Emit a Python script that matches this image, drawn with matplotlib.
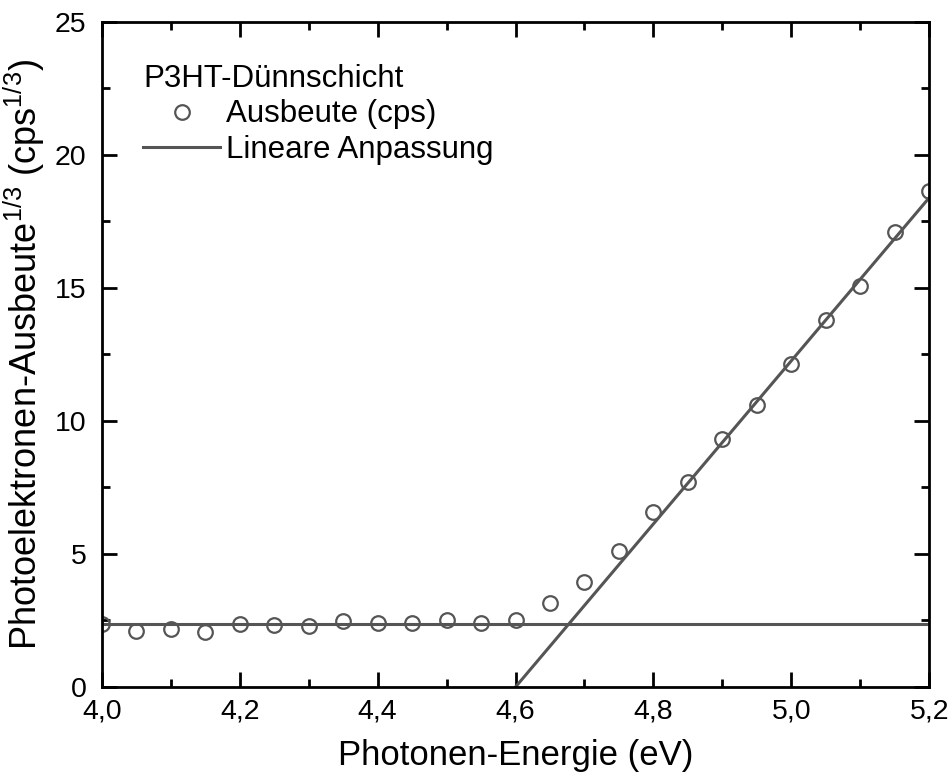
import numpy as np
import matplotlib
matplotlib.use("Agg")
import matplotlib.pyplot as plt
from matplotlib.ticker import MultipleLocator, FuncFormatter

# photon energy (eV) and cube root of yield (cps^1/3)
energy = [4.00, 4.05, 4.10, 4.15, 4.20, 4.25, 4.30, 4.35, 4.40, 4.45, 4.50, 4.55, 4.60,
          4.65, 4.70, 4.75, 4.80, 4.85, 4.90, 4.95, 5.00, 5.05, 5.10, 5.15, 5.20]
yield_cbrt = [2.37, 2.10, 2.18, 2.07, 2.37, 2.33, 2.29, 2.48, 2.40, 2.40, 2.52, 2.40, 2.52,
              3.16, 3.95, 5.11, 6.58, 7.70, 9.32, 10.60, 12.14, 13.80, 15.07, 17.10, 18.65]

# fit results
baseline = 2.35
fit_x0 = 4.60       # x-intercept of the linear fit
fit_slope = 30.65   # cps^1/3 per eV

plt.rcParams['font.family'] = ['Liberation Sans', 'DejaVu Sans']
plt.rcParams['mathtext.fontset'] = 'custom'
plt.rcParams['mathtext.rm'] = 'Liberation Sans'
plt.rcParams['mathtext.it'] = 'Liberation Sans'

fig = plt.figure(figsize=(9.52, 7.83), dpi=100)
ax = fig.add_axes([0.107, 0.1226, 0.869, 0.8494])

ax.plot(energy, yield_cbrt, 'o', mfc='none', mec='#555555', ms=10.5, mew=1.6,
        label='Ausbeute (cps)')
fx = np.array([fit_x0, 5.2])
ax.plot(fx, fit_slope * (fx - fit_x0), color='#555555', lw=2.2, label='Lineare Anpassung')
ax.axhline(baseline, color='#555555', lw=2.2)

ax.set_xlim(4.0, 5.2)
ax.set_ylim(0, 25)
ax.xaxis.set_major_locator(MultipleLocator(0.2))
ax.xaxis.set_minor_locator(MultipleLocator(0.1))
ax.yaxis.set_major_locator(MultipleLocator(5))
ax.yaxis.set_minor_locator(MultipleLocator(2.5))
ax.xaxis.set_major_formatter(FuncFormatter(lambda v, p: ('%.1f' % v).replace('.', ',')))
ax.yaxis.set_major_formatter(FuncFormatter(lambda v, p: '%d' % v))
ax.tick_params(which='both', direction='in', top=True, right=True, width=2, labelsize=20.5)
ax.tick_params(which='major', length=11)
ax.tick_params(which='minor', length=6)
ax.tick_params(axis='x', which='major', pad=8)
ax.tick_params(axis='y', which='major', pad=11)
for s in ax.spines.values():
    s.set_linewidth(2)

ax.set_xlabel('Photonen-Energie (eV)', fontsize=25, labelpad=11)
ax.set_ylabel(r'Photoelektronen-Ausbeute$^{1/3}$ (cps$^{1/3}$)', fontsize=26, labelpad=6)

leg = ax.legend(title='P3HT-Dünnschicht', loc='upper left', frameon=False, fontsize=22.5,
                title_fontsize=22.5, alignment='left', bbox_to_anchor=(0.05, 0.937),
                handlelength=2.45, handletextpad=0.2, borderaxespad=0, borderpad=0,
                labelspacing=0.18)

fig.savefig('out.png', dpi=100)
